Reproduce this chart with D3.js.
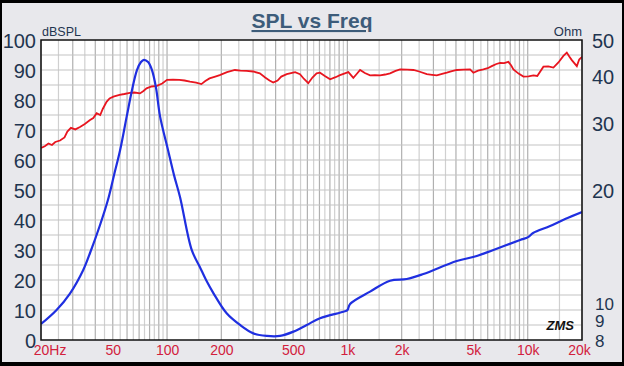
<!DOCTYPE html>
<html>
<head>
<meta charset="utf-8">
<script src="https://cdn.jsdelivr.net/npm/d3@7"></script>
<style>
  html, body { margin: 0; padding: 0; background: #000; }
  svg { display: block; }
  text { font-family: "Liberation Sans", Arial, sans-serif; }
</style>
</head>
<body>
<script>
// SPL (dB)
const splFreq = [20, 21, 22, 23, 24, 25.5, 27, 28, 29.3, 31, 32.9, 35, 37.4, 39, 40.7, 42.6, 44, 46.2, 48, 50.4,
  54.5, 58, 62.2, 66, 70.8, 74, 77, 82, 87.9, 94, 100, 108, 117, 125, 134, 145, 155, 163, 172, 185,
  196, 215, 238, 255, 276, 300, 327, 350, 370, 388, 410, 430, 461, 513, 546, 575, 607, 640, 675, 705,
  750, 802, 860, 910, 960, 1013, 1079, 1120, 1176, 1250, 1336, 1420, 1518, 1620, 1724, 1850, 1960, 2150, 2323, 2500,
  2757, 2950, 3131, 3350, 3558, 3800, 4042, 4400, 4790, 4998, 5300, 5678, 6000, 6320, 6700, 7030, 7400, 7814, 8100, 8330,
  8900, 9464, 10100, 10754, 11300, 12220, 13000, 13888, 14800, 15774, 16474, 17000, 17562, 18726, 19300, 20000];
const splDb = [64, 64.6, 65.5, 65, 66, 66.5, 67.5, 69.5, 70.7, 70.2, 71, 72, 73.3, 74, 75.6, 75, 77, 79.4, 80.5, 81.1,
  81.7, 82, 82.4, 82.5, 82.2, 83, 83.9, 84.5, 84.7, 85.5, 86.7, 86.8, 86.7, 86.5, 86.1, 85.8, 85.3, 86.3, 87.2, 87.8,
  88.3, 89.3, 90, 89.8, 89.7, 89.5, 88.9, 87.5, 86.5, 85.8, 86.5, 87.8, 88.6, 89.3, 88.6, 87, 85.6, 87.5, 88.9, 89.1,
  88, 86.9, 87.6, 88.3, 88.8, 89.3, 87.4, 88.5, 90, 89, 88.2, 88.3, 88.2, 88.5, 88.9, 89.7, 90.2, 90.1, 90, 89.5,
  88.6, 88.4, 88.2, 88.7, 89.1, 89.6, 90, 90.1, 90.2, 89.1, 89.8, 90.2, 90.6, 91.3, 92, 92.4, 92.3, 92.7, 91.5, 90.2,
  88.8, 87.8, 87.9, 88.2, 88, 91.1, 91.2, 90.8, 92.5, 94.7, 95.8, 94.5, 93.3, 91.3, 93.5, 94.4];

// impedance (Ohm)
const zFreq = [20, 24.4, 29, 34.3, 37.4, 42.5, 47, 50.8, 54.9, 59.8, 63.9, 68.1, 71.7, 74.5, 78.5, 82.5, 86.9, 91.4,
  101.3, 109.3, 118, 137, 152, 164.6, 181, 214, 254, 301, 357, 423, 502, 595, 705, 950, 1000, 1035, 1336, 1724, 2134, 2638,
  4042, 5218, 6452, 9072, 10048, 10712, 13310, 16120, 20000];
const zOhm = [8.82, 9.61, 10.64, 12.27, 13.61, 16.15, 18.81, 21.9, 25.5, 31.4, 36.8, 41.6, 43.7, 44.3, 43.7, 41.6, 37.3, 31.4,
  25.5, 21.9, 19.16, 13.87, 12.5, 11.54, 10.64, 9.42, 8.77, 8.33, 8.2, 8.2, 8.42, 8.77, 9.14, 9.51, 9.6, 9.97, 10.75, 11.49, 11.61, 11.97,
  12.96, 13.36, 13.87, 14.74, 15.0, 15.38, 16.05, 16.75, 17.49];

const dbTicks = [0, 10, 20, 30, 40, 50, 60, 70, 80, 90, 100];
const ohmTicks = [8, 9, 10, 20, 30, 40, 50];
const freqTicks = [20, 50, 100, 200, 500, 1000, 2000, 5000, 10000, 20000];
const freqLabels = ["20", "50", "100", "200", "500", "1k", "2k", "5k", "10k", "20k"];

const width = 624, height = 366;
const plot = { left: 41, top: 40, right: 582, bottom: 340 };

const svg = d3.select("body").append("svg")
    .attr("width", width)
    .attr("height", height);

// panel
svg.append("rect").attr("width", width).attr("height", height).attr("fill", "#000");
svg.append("rect")
    .attr("x", 2).attr("y", 3)
    .attr("width", width - 4).attr("height", height - 7)
    .attr("fill", "#e8e8ec");

const x = d3.scaleLog().domain([20, 20000]).range([plot.left, plot.right]);
const yDb = d3.scaleLinear().domain([0, 100]).range([plot.bottom, plot.top]);
const yOhm = d3.scaleLog().domain([8, 50]).range([plot.bottom, plot.top]);

svg.append("rect")
    .attr("x", plot.left).attr("y", plot.top)
    .attr("width", plot.right - plot.left).attr("height", plot.bottom - plot.top)
    .attr("fill", "#fff");

// grid: vertical lines every half unit of each decade
let vLines = [];
[10, 100, 1000, 10000].forEach(dec => {
    for (let m = 1; m < 10; m += 0.5) {
        let f = m * dec;
        if (f >= 20 && f <= 20000) vLines.push({ f: f, major: Number.isInteger(m) });
    }
});

const grid = svg.append("g");
grid.selectAll("line.v")
    .data(vLines)
    .enter().append("line")
    .attr("class", "v")
    .attr("x1", d => x(d.f)).attr("x2", d => x(d.f))
    .attr("y1", plot.top).attr("y2", plot.bottom)
    .attr("stroke", d => d.major ? "#b0b0b0" : "#d0d0d0")
    .attr("stroke-width", 1.2);

grid.selectAll("line.h")
    .data(d3.range(5, 100, 5))
    .enter().append("line")
    .attr("class", "h")
    .attr("x1", plot.left).attr("x2", plot.right)
    .attr("y1", d => yDb(d)).attr("y2", d => yDb(d))
    .attr("stroke", "#c4c4c4")
    .attr("stroke-width", 1.2);

// curves
svg.append("clipPath").attr("id", "clip")
    .append("rect")
    .attr("x", plot.left).attr("y", plot.top)
    .attr("width", plot.right - plot.left).attr("height", plot.bottom - plot.top);

const splLine = d3.line()
    .x((d, i) => x(splFreq[i]))
    .y(d => yDb(d));

const zLine = d3.line()
    .x((d, i) => x(zFreq[i]))
    .y(d => yOhm(d))
    .curve(d3.curveCatmullRom.alpha(0.5));

svg.append("path")
    .attr("d", splLine(splDb))
    .attr("fill", "none")
    .attr("stroke", "#e8151f")
    .attr("stroke-width", 1.8)
    .attr("clip-path", "url(#clip)");

svg.append("path")
    .attr("d", zLine(zOhm))
    .attr("fill", "none")
    .attr("stroke", "#1f2fe0")
    .attr("stroke-width", 2.2)
    .attr("clip-path", "url(#clip)");

// frame
svg.append("rect")
    .attr("x", plot.left).attr("y", plot.top)
    .attr("width", plot.right - plot.left).attr("height", plot.bottom - plot.top)
    .attr("fill", "none")
    .attr("stroke", "#111")
    .attr("stroke-width", 1.5);

// axes
const leftAxis = svg.append("g")
    .attr("transform", `translate(${plot.left - 5},0)`)
    .call(d3.axisLeft(yDb).tickValues(dbTicks).tickSize(0).tickPadding(0));

const rightAxis = svg.append("g")
    .attr("transform", `translate(${plot.right + 10},0)`)
    .call(d3.axisRight(yOhm).tickValues(ohmTicks).tickSize(0).tickPadding(0).tickFormat(d3.format("d")));

const bottomAxis = svg.append("g")
    .attr("transform", `translate(0,${plot.bottom})`)
    .call(d3.axisBottom(x).tickValues(freqTicks).tickSize(0).tickPadding(5)
        .tickFormat((d, i) => freqLabels[i]));

[leftAxis, rightAxis, bottomAxis].forEach(a => a.select(".domain").remove());

leftAxis.selectAll("text")
    .attr("font-size", 20)
    .attr("fill", "#1f3550")
    .attr("dy", "0.36em");

rightAxis.selectAll("text")
    .attr("font-size", d => d < 20 ? 17 : 20)
    .attr("x", d => d < 20 ? 3 : 0)
    .attr("fill", "#1f3550")
    .attr("dy", "0.36em");

bottomAxis.selectAll("text")
    .attr("font-size", 14)
    .attr("fill", "#d2203c");

bottomAxis.selectAll(".tick text")
    .filter(d => d === 20000)
    .attr("x", -3);

// "20Hz": number sits on the tick, unit trails after it
bottomAxis.selectAll(".tick text")
    .filter(d => d === 20)
    .attr("text-anchor", "start")
    .attr("x", -7.8)
    .text("20Hz");

// labels
svg.append("text")
    .attr("x", 312).attr("y", 28)
    .attr("text-anchor", "middle")
    .attr("font-size", 21)
    .attr("font-weight", "bold")
    .attr("fill", "#3d5c7a")
    .attr("text-decoration", "underline")
    .text("SPL vs Freq");

svg.append("text")
    .attr("x", plot.left + 1).attr("y", 36)
    .attr("font-size", 12.5)
    .attr("fill", "#1f3550")
    .text("dBSPL");

svg.append("text")
    .attr("x", plot.right).attr("y", 36)
    .attr("text-anchor", "end")
    .attr("font-size", 13)
    .attr("fill", "#1f3550")
    .text("Ohm");

svg.append("text")
    .attr("x", 574).attr("y", 330)
    .attr("text-anchor", "end")
    .attr("font-size", 13)
    .attr("font-style", "italic")
    .attr("font-weight", "bold")
    .attr("font-family", "Liberation Serif, serif")
    .attr("fill", "#111")
    .text("ZMS");
</script>
</body>
</html>
